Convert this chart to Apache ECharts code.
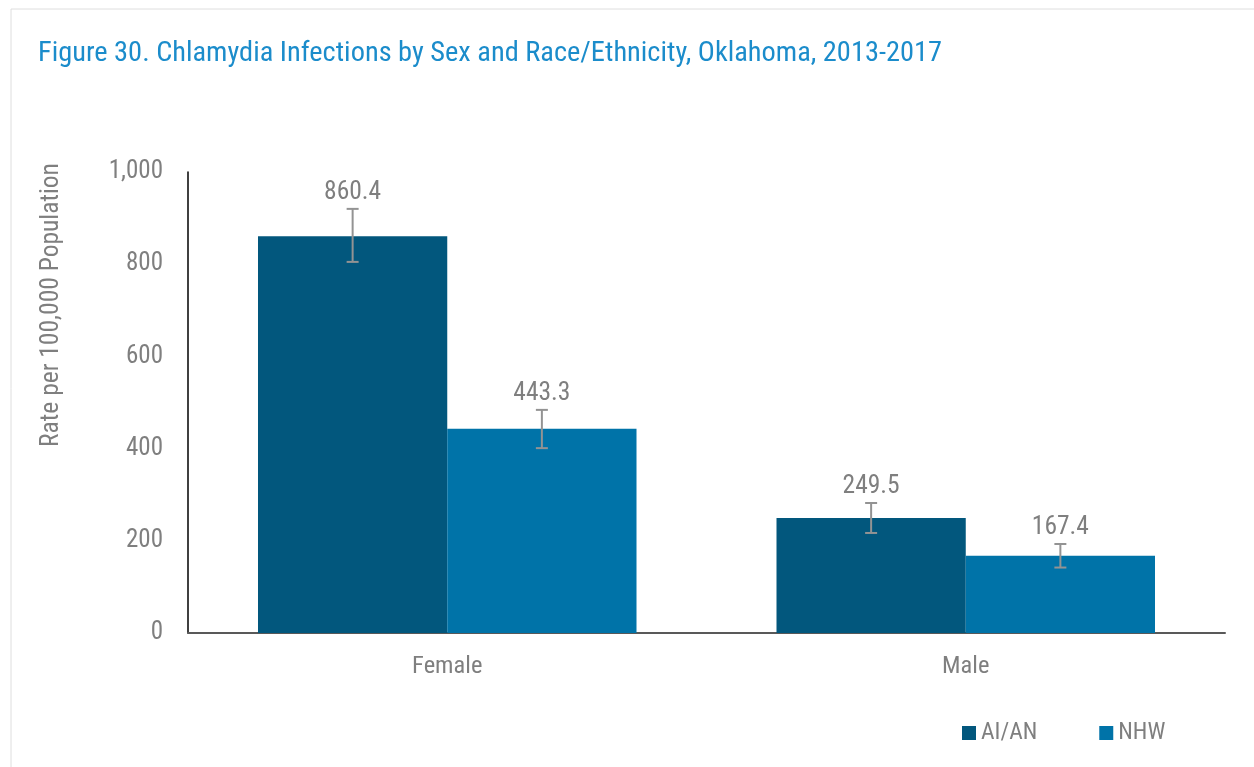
<!DOCTYPE html>
<html><head><meta charset="utf-8">
<script src="https://cdn.jsdelivr.net/npm/echarts@6/dist/echarts.min.js"></script>
<style>html,body{margin:0;padding:0;background:#fff}#c{width:1254px;height:767px}</style>
</head><body><div id="c"></div>
<script>
const categories = ['Female', 'Male'];
const seriesNames = ['AI/AN', 'NHW'];
const aianValues = [860.4, 249.5];
const nhwValues = [443.3, 167.4];
const aianLow = [805, 217];
const aianHigh = [920, 282];
const nhwLow = [401, 142];
const nhwHigh = [484, 193];
const yTicks = [0, 200, 400, 600, 800, 1000];

const FONT = "'Liberation Sans Narrow','Arial Narrow','Roboto Condensed',sans-serif";
const C1 = '#02577d', C2 = '#0073a8';
const chart = echarts.init(document.getElementById('c'));

const errData = [];
categories.forEach((c, i) => {
  errData.push([i, aianLow[i], aianHigh[i], aianValues[i], 0]);
  errData.push([i, nhwLow[i], nhwHigh[i], nhwValues[i], 1]);
});

chart.setOption({
  animation: false,
  graphic: [
    {type: 'rect', shape: {x: 11, y: 9, width: 1300, height: 800}, style: {fill: 'none', stroke: '#dedede', lineWidth: 1}, silent: true},
    {type: 'text', left: 38, top: 40, style: {text: 'Figure 30. Chlamydia Infections by Sex and Race/Ethnicity, Oklahoma, 2013-2017', fill: '#1b8ccb', font: '28.4px ' + FONT}},
    {type: 'text', x: 39, y: 305, rotation: Math.PI / 2, style: {text: 'Rate per 100,000 Population', fill: '#7f7f7f', font: '25.5px ' + FONT, align: 'center', verticalAlign: 'top'}}
  ],
  legend: {
    left: 957, top: 716, itemWidth: 14, itemHeight: 14, itemGap: 62, icon: 'rect',
    data: seriesNames,
    textStyle: {color: '#7f7f7f', fontSize: 23.5, fontFamily: FONT}
  },
  grid: {left: 188, right: 29, top: 172, bottom: 134},
  xAxis: {
    type: 'category', data: categories,
    axisLine: {lineStyle: {color: '#595959', width: 2}},
    axisTick: {show: false},
    axisLabel: {color: '#7f7f7f', fontSize: 24.5, fontFamily: FONT, margin: 21}
  },
  yAxis: {
    type: 'value', min: 0, max: 1000, interval: 200,
    axisLine: {show: true, lineStyle: {color: '#000', width: 1.5}},
    axisTick: {show: false},
    splitLine: {show: false},
    axisLabel: {color: '#7f7f7f', fontSize: 25, fontFamily: FONT, margin: 25,
      formatter: v => yTicks.includes(v) ? v.toLocaleString('en-US') : ''}
  },
  series: [
    {name: seriesNames[0], type: 'bar', data: aianValues, barGap: '0%', barCategoryGap: '27%',
      itemStyle: {color: C1}},
    {name: seriesNames[1], type: 'bar', data: nhwValues, barGap: '0%', barCategoryGap: '27%',
      itemStyle: {color: C2}},
    {type: 'custom', data: errData, z: 10, silent: true,
      renderItem: (params, api) => {
        const cat = api.value(0), s = api.value(4);
        const bw = api.size([1, 0])[0];
        const barW = bw * 0.365;
        const cx = api.coord([cat, 0])[0] + (s - 0.5) * barW;
        const lo = api.coord([cat, api.value(1)])[1];
        const hi = api.coord([cat, api.value(2)])[1];
        const cap = 6;
        const st = {stroke: '#939393', lineWidth: 2, fill: null};
        return {type: 'group', children: [
          {type: 'line', shape: {x1: cx, y1: lo, x2: cx, y2: hi}, style: st},
          {type: 'line', shape: {x1: cx - cap, y1: lo, x2: cx + cap, y2: lo}, style: st},
          {type: 'line', shape: {x1: cx - cap, y1: hi, x2: cx + cap, y2: hi}, style: st},
          {type: 'text', x: cx, y: hi - 3, style: {text: api.value(3).toFixed(1), fill: '#7f7f7f', font: '25.5px ' + FONT, align: 'center', verticalAlign: 'bottom'}}
        ]};
      }}
  ]
});
</script></body></html>
